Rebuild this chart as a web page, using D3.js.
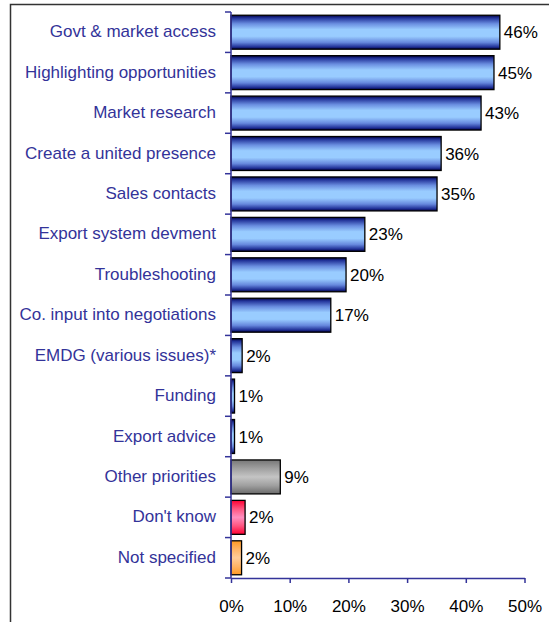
<!DOCTYPE html>
<html><head><meta charset="utf-8">
<script src="https://cdn.jsdelivr.net/npm/d3@7"></script>
<style>body{margin:0;background:#fff}svg{display:block}</style>
</head><body>
<script>
const categories = ["Govt & market access","Highlighting opportunities","Market research","Create a united presence","Sales contacts","Export system devment","Troubleshooting","Co. input into negotiations","EMDG (various issues)*","Funding","Export advice","Other priorities","Don't know","Not specified"];
const values = [45.8,44.8,42.6,35.8,35.1,22.8,19.6,17.0,1.9,0.6,0.6,8.4,2.4,1.8];
const valueLabels = ["46%","45%","43%","36%","35%","23%","20%","17%","2%","1%","1%","9%","2%","2%"];
const groups = ["blue","blue","blue","blue","blue","blue","blue","blue","blue","blue","blue","grey","red","orange"];
const xTicks = [0,10,20,30,40,50];

const W=549,H=622;
const FONT="Liberation Sans, Arial, sans-serif";
const svg=d3.select("body").append("svg").attr("width",W).attr("height",H);
svg.append("path").attr("d","M10.5,"+H+"V4.5H"+W).attr("fill","none").attr("stroke","#333").attr("stroke-width",1.5);

const grads={
  blue:[[0,"#000044"],[0.08,"#223399"],[0.25,"#6a8ee0"],[0.42,"#99ccff"],[0.62,"#99ccff"],[0.8,"#6688dd"],[0.93,"#223399"],[1,"#000044"]],
  grey:[[0,"#777777"],[0.25,"#a0a0a0"],[0.5,"#c4c4c4"],[0.75,"#a0a0a0"],[1,"#6a6a6a"]],
  red:[[0,"#ff0033"],[0.25,"#ff5580"],[0.5,"#ff8fc0"],[0.75,"#ff5580"],[1,"#ff0033"]],
  orange:[[0,"#ff9922"],[0.25,"#ffb466"],[0.5,"#ffcc99"],[0.75,"#ffb466"],[1,"#ff9922"]]
};
const defs=svg.append("defs");
Object.entries(grads).forEach(([k,stops])=>{
  const g=defs.append("linearGradient").attr("id","g_"+k).attr("x1",0).attr("y1",0).attr("x2",0).attr("y2",1);
  stops.forEach(([o,col])=>g.append("stop").attr("offset",o).attr("stop-color",col));
});

const x=d3.scaleLinear().domain([0,50]).range([231,524.5]);
const y=d3.scaleBand().domain(categories).range([12,578]).paddingInner(0.16).paddingOuter(0.08);
const axisCol="#333399";

svg.selectAll("rect.bar").data(categories).join("rect").attr("class","bar")
  .attr("x",x(0)).attr("y",d=>y(d)).attr("width",(d,i)=>x(values[i])-x(0)).attr("height",y.bandwidth())
  .attr("fill",(d,i)=>"url(#g_"+groups[i]+")").attr("stroke","#000").attr("stroke-width",1.3);

svg.selectAll("text.val").data(categories).join("text").attr("class","val")
  .attr("x",(d,i)=>x(values[i])+4).attr("y",d=>y(d)+y.bandwidth()/2).attr("dy","0.36em")
  .attr("font-family",FONT).attr("font-size",17).attr("fill","#000")
  .text((d,i)=>valueLabels[i]);

svg.selectAll("text.cat").data(categories).join("text").attr("class","cat")
  .attr("x",216).attr("y",d=>y(d)+y.bandwidth()/2-1).attr("dy","0.36em").attr("text-anchor","end")
  .attr("font-family",FONT).attr("font-size",17).attr("fill","#333399")
  .text(d=>d);

const step=(578-12)/categories.length;
svg.append("line").attr("x1",231).attr("x2",231).attr("y1",12).attr("y2",578).attr("stroke",axisCol).attr("stroke-width",1.5);
svg.selectAll("line.yt").data(d3.range(categories.length+1)).join("line").attr("class","yt")
  .attr("x1",225).attr("x2",231).attr("y1",i=>12+i*step).attr("y2",i=>12+i*step).attr("stroke",axisCol).attr("stroke-width",1.5);

const xa=svg.append("g").attr("transform","translate(0,578)")
  .call(d3.axisBottom(x).tickValues(xTicks).tickFormat(d=>d+"%").tickSize(5).tickSizeOuter(0));
xa.select(".domain").attr("stroke",axisCol).attr("stroke-width",1.5);
xa.selectAll(".tick line").attr("stroke",axisCol).attr("stroke-width",1.5);
xa.selectAll(".tick text").attr("fill","#000").attr("font-size",17).attr("font-family",FONT).attr("y",22);
</script>
</body></html>
